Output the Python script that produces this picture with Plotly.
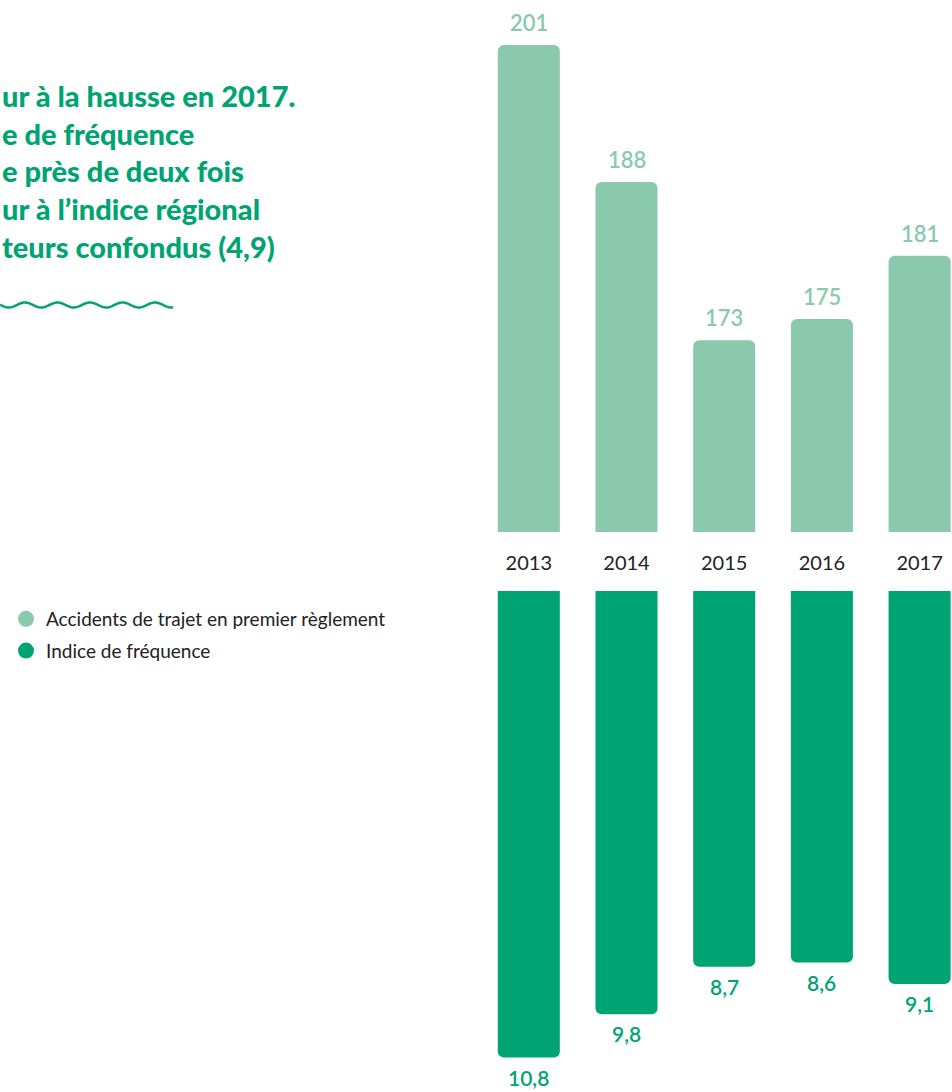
import numpy as np
import plotly.graph_objects as go

# ---- data ----
years = ["2013", "2014", "2015", "2016", "2017"]
accidents = [201, 188, 173, 175, 181]
indice = [10.8, 9.8, 8.7, 8.6, 9.1]

title_lines = [
    "ur à la hausse en 2017.",
    "e de fréquence",
    "e près de deux fois",
    "ur à l’indice régional",
    "teurs confondus (4,9)",
]
legend_names = ["Accidents de trajet en premier règlement", "Indice de fréquence"]

LIGHT = "#8AC9AE"
DARK = "#00A473"
W, H = 952, 1092

fig = go.Figure()

fig.add_trace(go.Bar(
    x=years, y=accidents, xaxis="x", yaxis="y",
    marker=dict(color=LIGHT, line=dict(width=0)), width=0.635,
    showlegend=False, hoverinfo="skip",
))
fig.add_trace(go.Bar(
    x=years, y=indice, xaxis="x2", yaxis="y2",
    marker=dict(color=DARK, line=dict(width=0)), width=0.635,
    showlegend=False, hoverinfo="skip",
))

# value labels placed at the data values through the axes (category index)
for i, v in enumerate(accidents):
    fig.add_annotation(
        x=i, y=v, xref="x", yref="y", text=str(v), showarrow=False,
        yanchor="bottom", yshift=7,
        font=dict(family="Lato", size=22, color=LIGHT, weight=600),
    )
for i, v in enumerate(indice):
    fig.add_annotation(
        x=i, y=v, xref="x2", yref="y2", text=f"{v:.1f}".replace(".", ","),
        showarrow=False, yanchor="top", yshift=-5,
        font=dict(family="Lato", size=21, color=DARK, weight=600),
    )

for name, col, grp in zip(legend_names, [LIGHT, DARK], ["a", "b"]):
    fig.add_trace(go.Scatter(
        x=[None], y=[None], mode="markers", name=name, legendgroup=grp,
        marker=dict(size=16, color=col, symbol="circle"),
    ))

# x mapping: category index 0 at px 528.8, 97.7 px per category
x_dom = [476 / W, 1.0]
x_rng = [(476 - 528.8) / 97.7, (W - 528.8) / 97.7]

upper_bottom_px = 532
lower_top_px = 591

fig.update_layout(
    width=W, height=H,
    margin=dict(l=0, r=0, t=0, b=0),
    paper_bgcolor="white", plot_bgcolor="white",
    separators=", ",
    barcornerradius=6,
    font=dict(family="Lato", color="#222222"),
    xaxis=dict(
        type="category", domain=x_dom, range=x_rng, anchor="y",
        showgrid=False, zeroline=False, showline=False,
        ticks="outside", ticklen=13, tickcolor="rgba(0,0,0,0)",
        tickfont=dict(family="Lato", size=20, color="#222222"),
    ),
    xaxis2=dict(
        type="category", domain=x_dom, range=x_rng, anchor="y2",
        visible=False,
    ),
    yaxis=dict(
        domain=[(H - upper_bottom_px) / H, 1.0],
        range=[154.8, 154.8 + upper_bottom_px / 10.54],
        visible=False,
    ),
    yaxis2=dict(
        domain=[0.0, (H - lower_top_px) / H],
        range=[(H - lower_top_px) / 43.2, 0],
        visible=False,
    ),
    legend=dict(
        x=6 / W, y=1 - 600 / H, xanchor="left", yanchor="top",
        font=dict(family="Lato", size=19, color="#222222"),
        tracegroupgap=4, bgcolor="rgba(0,0,0,0)",
    ),
)

# title (cut at left edge like the reference)
fig.add_annotation(
    x=0, y=1 - 76 / H, xref="paper", yref="paper",
    xanchor="left", yanchor="top", align="left", showarrow=False,
    text="<br>".join(title_lines),
    font=dict(family="Lato", size=29, color=DARK, weight=900),
)

# wavy decoration
xs = np.linspace(0, 173, 200)
ys = 305 - 2.5 * np.cos(2 * np.pi * (xs - 25) / 32.5)
path = "M " + " L ".join(f"{x / W:.5f},{1 - y / H:.5f}" for x, y in zip(xs, ys))
fig.add_shape(type="path", path=path, xref="paper", yref="paper",
              line=dict(color=DARK, width=2.5))

fig.write_html(
    "out.html",
    config={"displayModeBar": False},
    post_script="document.body.style.margin='0';",
)
